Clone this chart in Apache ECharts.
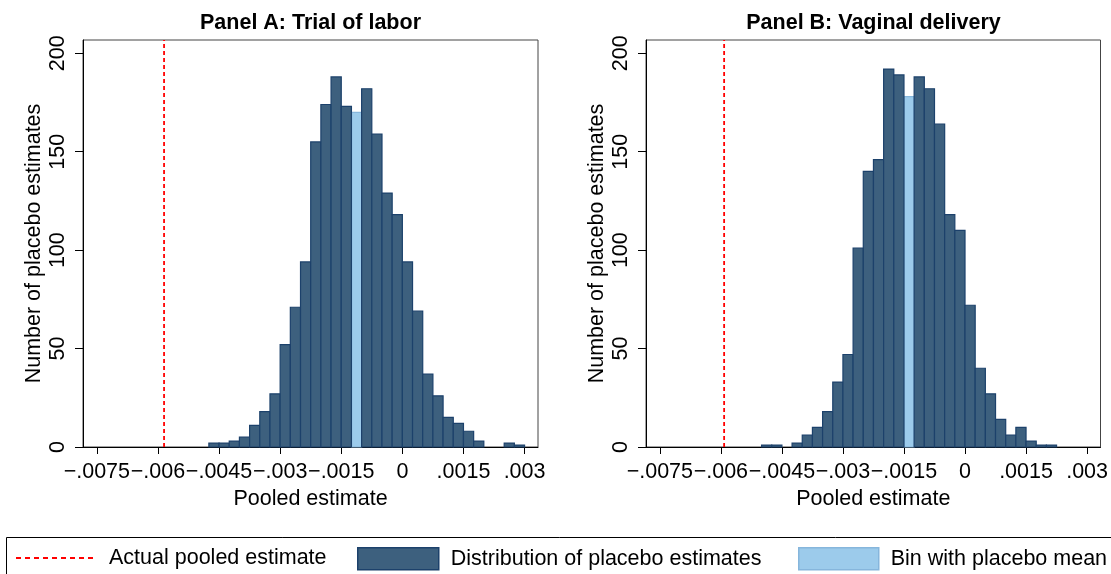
<!DOCTYPE html>
<html>
<head>
<meta charset="utf-8">
<script src="https://cdn.jsdelivr.net/npm/echarts@6/dist/echarts.min.js"></script>
<style>
  html, body { margin: 0; padding: 0; background: #fff; }
  #chart { width: 1111px; height: 574px; }
</style>
</head>
<body>
<div id="chart"></div>
<script>
// Histogram bins: left edge of each bin (bin width 0.00025) and counts per bin
const binWidth = 0.00025;

const binLeftA = [-0.00475, -0.0045, -0.00425, -0.004, -0.00375, -0.0035, -0.00325, -0.003,
  -0.00275, -0.0025, -0.00225, -0.002, -0.00175, -0.0015, -0.00125, -0.001, -0.00075, -0.0005,
  -0.00025, 0, 0.00025, 0.0005, 0.00075, 0.001, 0.00125, 0.0015, 0.00175, 0.002, 0.00225,
  0.0025, 0.00275];
const countsA = [2, 2, 3, 5, 11, 18, 27, 52, 71, 94, 155, 174, 188, 173, 170, 182, 159, 129,
  118, 94, 69, 37, 26, 15, 12, 8, 3, 0, 0, 2, 1];
const meanBinIndexA = 14;
const actualEstimateA = -0.00585;

const binLeftB = [-0.005, -0.00475, -0.0045, -0.00425, -0.004, -0.00375, -0.0035, -0.00325,
  -0.003, -0.00275, -0.0025, -0.00225, -0.002, -0.00175, -0.0015, -0.00125, -0.001, -0.00075,
  -0.0005, -0.00025, 0, 0.00025, 0.0005, 0.00075, 0.001, 0.00125, 0.0015, 0.00175, 0.002];
const countsB = [1, 1, 0, 2, 6, 10, 18, 33, 47, 101, 140, 146, 192, 189, 178, 188, 182, 164,
  118, 110, 72, 40, 27, 14, 6, 10, 3, 1, 1];
const meanBinIndexB = 14;
const actualEstimateB = -0.00592;

// Axis ticks and labels
const xTickValues = [-0.0075, -0.006, -0.0045, -0.003, -0.0015, 0, 0.0015, 0.003];
const xTickLabels = ['\u2212.0075', '\u2212.006', '\u2212.0045', '\u2212.003', '\u2212.0015', '0', '.0015', '.003'];
const yTickValues = [0, 50, 100, 150, 200];
const xRange = [-0.00784, 0.00333];
const yMax = 206.76;

const panelTitles = ['Panel A: Trial of labor', 'Panel B: Vaginal delivery'];
const FONT = '"Liberation Sans", Arial, Helvetica, sans-serif';

const DARK = { fill: '#3d607e', stroke: '#1c416b' };
const LIGHT = { fill: '#9ccbeb', stroke: '#86b6dc' };

const grids = [
  { left: 83, top: 40, width: 455, height: 407 },
  { left: 646, top: 40, width: 455, height: 407 }
];

function xLabel(v) {
  for (let i = 0; i < xTickValues.length; i++) {
    if (Math.abs(xTickValues[i] - v) < 1e-9) return xTickLabels[i];
  }
  return '';
}

function binData(lefts, counts, keep) {
  const out = [];
  lefts.forEach((lo, i) => {
    if (counts[i] > 0 && keep(i)) out.push([lo, lo + binWidth, counts[i]]);
  });
  return out;
}

function binRenderer(col) {
  return function (params, api) {
    const p0 = api.coord([api.value(0), api.value(2)]);
    const p1 = api.coord([api.value(1), 0]);
    return {
      type: 'rect',
      shape: { x: p0[0], y: p0[1], width: p1[0] - p0[0], height: p1[1] - p0[1] },
      style: { fill: col.fill, stroke: col.stroke, lineWidth: 1.2 }
    };
  };
}

const panels = [
  { lefts: binLeftA, counts: countsA, meanIdx: meanBinIndexA, est: actualEstimateA },
  { lefts: binLeftB, counts: countsB, meanIdx: meanBinIndexB, est: actualEstimateB }
];

const series = [];
panels.forEach((p, g) => {
  series.push({
    name: 'Bin with placebo mean',
    type: 'custom',
    xAxisIndex: g, yAxisIndex: g,
    renderItem: binRenderer(LIGHT),
    itemStyle: { color: LIGHT.fill, borderColor: LIGHT.stroke, borderWidth: 1.2 },
    encode: { x: [0, 1], y: 2 },
    data: binData(p.lefts, p.counts, i => i === p.meanIdx),
    z: 2
  });
  series.push({
    name: 'Distribution of placebo estimates',
    type: 'custom',
    xAxisIndex: g, yAxisIndex: g,
    renderItem: binRenderer(DARK),
    itemStyle: { color: DARK.fill, borderColor: DARK.stroke, borderWidth: 1.2 },
    encode: { x: [0, 1], y: 2 },
    data: binData(p.lefts, p.counts, i => i !== p.meanIdx),
    z: 3
  });
  series.push({
    name: 'Actual pooled estimate',
    type: 'line',
    xAxisIndex: g, yAxisIndex: g,
    symbol: 'none',
    silent: true,
    color: '#ff0000',
    lineStyle: { color: '#ff0000', width: 1.8, type: [4, 3] },
    data: [[p.est, 0], [p.est, yMax]],
    z: 4
  });
});

const legendBase = {
  top: 547, padding: 0, itemHeight: 22, selectedMode: false,
  textStyle: { fontSize: 21.5, color: '#000', fontFamily: FONT, padding: [0, 0, 0, 7] }
};

const option = {
  animation: false,
  backgroundColor: '#fff',
  textStyle: { fontFamily: FONT },
  title: panelTitles.map((t, g) => ({
    text: t,
    left: grids[g].left + grids[g].width / 2,
    textAlign: 'center',
    top: 12,
    padding: 0,
    textStyle: { fontSize: 21.5, fontWeight: 'bold', color: '#000', fontFamily: FONT }
  })),
  grid: grids.map(gr => Object.assign({ show: true, borderColor: '#444', borderWidth: 1 }, gr)),
  xAxis: grids.map((gr, g) => ({
    type: 'value', gridIndex: g, min: xRange[0], max: xRange[1],
    axisLine: { show: true, onZero: false, lineStyle: { color: '#000', width: 1 } },
    axisTick: { show: true, customValues: xTickValues, length: 7, lineStyle: { color: '#000' } },
    axisLabel: { customValues: xTickValues, formatter: xLabel, fontSize: 21.5, color: '#000', margin: 14, fontFamily: FONT },
    splitLine: { show: false },
    name: 'Pooled estimate', nameLocation: 'middle', nameGap: 38,
    nameTextStyle: { fontSize: 21.5, color: '#000', fontFamily: FONT }
  })),
  yAxis: grids.map((gr, g) => ({
    type: 'value', gridIndex: g, min: 0, max: yMax,
    axisLine: { show: true, onZero: false, lineStyle: { color: '#000', width: 1 } },
    axisTick: { show: true, customValues: yTickValues, length: 8, lineStyle: { color: '#000' } },
    axisLabel: { customValues: yTickValues, rotate: 90, fontSize: 21.5, color: '#000', margin: 14, fontFamily: FONT },
    splitLine: { show: false },
    name: 'Number of placebo estimates', nameLocation: 'middle', nameGap: 38,
    nameTextStyle: { fontSize: 21.5, color: '#000', fontFamily: FONT }
  })),
  legend: [
    Object.assign({}, legendBase, {
      left: 15, itemWidth: 81,
      data: ['Actual pooled estimate'],
      lineStyle: { color: '#ff0000', width: 2, type: [5, 4] },
      itemStyle: { opacity: 0 }
    }),
    Object.assign({}, legendBase, {
      left: 357, itemWidth: 81,
      data: [{ name: 'Distribution of placebo estimates', icon: 'rect',
        itemStyle: { color: DARK.fill, borderColor: DARK.stroke, borderWidth: 1.5 } }]
    }),
    Object.assign({}, legendBase, {
      left: 798, itemWidth: 80,
      data: [{ name: 'Bin with placebo mean', icon: 'rect',
        itemStyle: { color: LIGHT.fill, borderColor: LIGHT.stroke, borderWidth: 1.5 } }]
    })
  ],
  graphic: [{
    type: 'rect',
    shape: { x: 6.5, y: 537.5, width: 1200, height: 60 },
    style: { fill: 'none', stroke: '#000', lineWidth: 1 },
    silent: true,
    z: -1
  }],
  series: series
};

const chart = echarts.init(document.getElementById('chart'), null, { renderer: 'canvas' });
chart.setOption(option);
</script>
</body>
</html>
